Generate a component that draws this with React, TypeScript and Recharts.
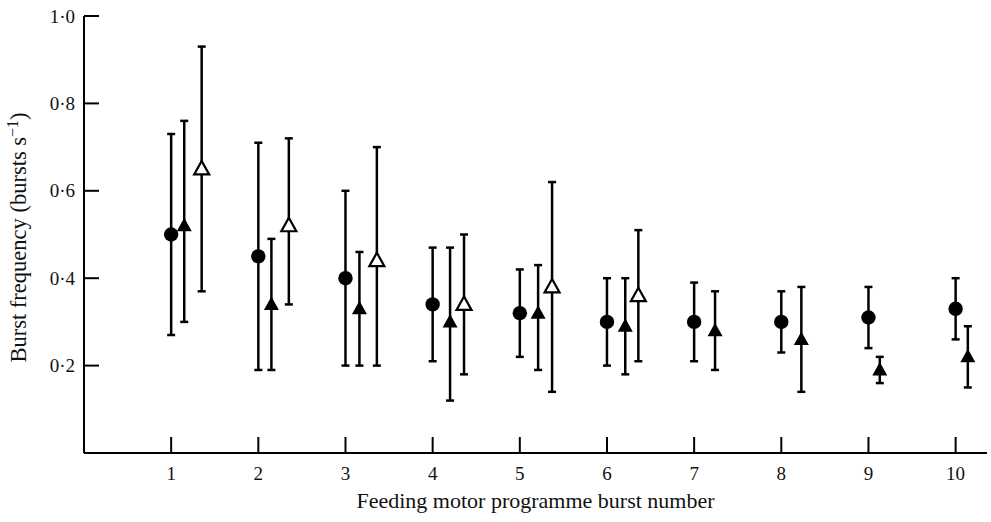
import { ScatterChart, Scatter, XAxis, YAxis, ErrorBar } from 'recharts';

const FONT = '"Liberation Serif", "Times New Roman", serif';

const xTicks = [1, 2, 3, 4, 5, 6, 7, 8, 9, 10];
const yTicks = [0.2, 0.4, 0.6, 0.8, 1.0];

// filled circles: mean with range (low / high)
const circleX = [1, 2, 3, 4, 5, 6, 7, 8, 9, 10];
const circleMean = [0.5, 0.45, 0.4, 0.34, 0.32, 0.3, 0.3, 0.3, 0.31, 0.33];
const circleLow = [0.27, 0.19, 0.2, 0.21, 0.22, 0.2, 0.21, 0.23, 0.24, 0.26];
const circleHigh = [0.73, 0.71, 0.6, 0.47, 0.42, 0.4, 0.39, 0.37, 0.38, 0.4];

// filled triangles
const filledX = [1.15, 2.15, 3.16, 4.2, 5.21, 6.21, 7.24, 8.23, 9.13, 10.14];
const filledMean = [0.52, 0.34, 0.33, 0.3, 0.32, 0.29, 0.28, 0.26, 0.19, 0.22];
const filledLow = [0.3, 0.19, 0.2, 0.12, 0.19, 0.18, 0.19, 0.14, 0.16, 0.15];
const filledHigh = [0.76, 0.49, 0.46, 0.47, 0.43, 0.4, 0.37, 0.38, 0.22, 0.29];

// open triangles (bursts 1-6 only)
const openX = [1.35, 2.35, 3.36, 4.36, 5.37, 6.36];
const openMean = [0.65, 0.52, 0.44, 0.34, 0.38, 0.36];
const openLow = [0.37, 0.34, 0.2, 0.18, 0.14, 0.21];
const openHigh = [0.93, 0.72, 0.7, 0.5, 0.62, 0.51];

const toRows = (xs: number[], mean: number[], low: number[], high: number[]) =>
  xs.map((x, i) => ({
    x,
    y: mean[i],
    err: [mean[i] - low[i], high[i] - mean[i]],
  }));

const circleRows = toRows(circleX, circleMean, circleLow, circleHigh);
const filledRows = toRows(filledX, filledMean, filledLow, filledHigh);
const openRows = toRows(openX, openMean, openLow, openHigh);

const X_MARGIN = 13;
const Y_MARGIN = 9;

const XTick = ({ x, y, payload }: any) => (
  <g>
    <line x1={x} x2={x} y1={y - X_MARGIN} y2={y - X_MARGIN - 16} stroke="#000" strokeWidth={2} />
    <text x={x} y={y} dy="0.72em" textAnchor="middle" fontFamily={FONT} fontSize={19} fill="#111">
      {payload.value}
    </text>
  </g>
);

const YTick = ({ x, y, payload }: any) => (
  <g>
    <line x1={x + Y_MARGIN} x2={x + Y_MARGIN + 15} y1={y} y2={y} stroke="#000" strokeWidth={2} />
    <text x={x} y={y} dy="0.35em" textAnchor="end" fontFamily={FONT} fontSize={19} fill="#111">
      {payload.value.toFixed(1).replace('.', '·')}
    </text>
  </g>
);

// rotated y title with a raised "−1"
const YTitle = ({ viewBox }: any) => {
  const cx = viewBox.x + 18;
  const cy = viewBox.y + viewBox.height / 2 + 3;
  return (
    <text
      x={cx}
      y={cy}
      dy="0.35em"
      transform={`rotate(-90 ${cx} ${cy})`}
      textAnchor="middle"
      fontFamily={FONT}
      fontSize={22.5}
      fill="#111"
    >
      Burst frequency (bursts s
      <tspan dy={-8} fontSize={16}>−1</tspan>
      <tspan dy={8}>)</tspan>
    </text>
  );
};

const Dot = ({ cx, cy }: any) => <circle cx={cx} cy={cy} r={7.2} fill="#000" />;

const tri = (cx: number, cy: number) =>
  `${cx},${cy - 8} ${cx - 7.5},${cy + 5.5} ${cx + 7.5},${cy + 5.5}`;

const FilledTri = ({ cx, cy }: any) => <polygon points={tri(cx, cy)} fill="#000" />;

const OpenTri = ({ cx, cy }: any) => (
  <polygon points={tri(cx, cy)} fill="#fff" stroke="#000" strokeWidth={2.2} strokeLinejoin="miter" />
);

export default function App() {
  return (
    <div style={{ position: 'absolute', left: 0, top: 0, background: '#fff' }}>
      <ScatterChart width={991} height={522} margin={{ top: 16, right: 4, bottom: 19, left: 0 }}>
        <XAxis
          type="number"
          dataKey="x"
          domain={[0, 10.36]}
          ticks={xTicks}
          allowDataOverflow
          height={50}
          axisLine={{ stroke: '#000', strokeWidth: 2 }}
          tickLine={false}
          tickSize={0}
          tickMargin={X_MARGIN}
          tick={<XTick />}
          label={{
            value: 'Feeding motor programme burst number',
            position: 'insideBottom',
            offset: -5,
            style: { fontFamily: FONT, fontSize: 22, fill: '#111' },
          }}
        />
        <YAxis
          type="number"
          dataKey="y"
          domain={[0, 1]}
          ticks={yTicks}
          allowDataOverflow
          width={84}
          axisLine={{ stroke: '#000', strokeWidth: 2 }}
          tickLine={false}
          tickSize={0}
          tickMargin={Y_MARGIN}
          tick={<YTick />}
          label={<YTitle />}
        />
        <Scatter data={circleRows} shape={<Dot />} isAnimationActive={false}>
          <ErrorBar dataKey="err" direction="y" width={4} stroke="#000" strokeWidth={2.5} />
        </Scatter>
        <Scatter data={filledRows} shape={<FilledTri />} isAnimationActive={false}>
          <ErrorBar dataKey="err" direction="y" width={4} stroke="#000" strokeWidth={2.5} />
        </Scatter>
        <Scatter data={openRows} shape={<OpenTri />} isAnimationActive={false}>
          <ErrorBar dataKey="err" direction="y" width={4} stroke="#000" strokeWidth={2.5} />
        </Scatter>
      </ScatterChart>
    </div>
  );
}
